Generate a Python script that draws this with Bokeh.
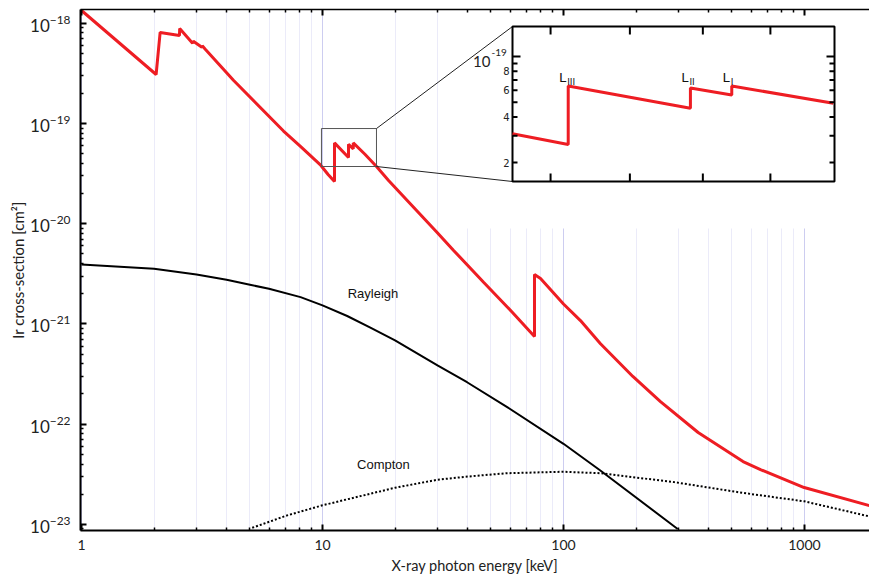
import math
from bokeh.plotting import figure
from bokeh.models import (LogAxis, FixedTicker, BasicTickFormatter, Range1d, LogScale,
                          LogTickFormatter, Title)
from bokeh.core.properties import value
from bokeh.embed import file_html
from bokeh.resources import INLINE

# ---------------- data ----------------
total_energy = [1.0, 2.04, 2.12, 2.55, 2.555, 2.89, 2.91, 3.16, 3.17, 3.27, 4.27, 6.89, 8.1,
                9.85, 10.55, 11.215, 11.215, 12.824, 12.824, 13.419, 13.419, 15.0, 16.75,
                18.8, 29.9, 35.0, 46.6, 61.3, 75.8, 75.8, 80.3, 100, 117.6, 142.4, 194, 252.6,
                362, 556, 657, 997, 1861]
total_xs = [1.34e-18, 3.08e-19, 8.09e-19, 7.55e-19, 8.87e-19, 6.3e-19, 6.6e-19, 5.75e-19,
            5.95e-19, 5.47e-19, 2.7e-19, 8.4e-20, 5.9e-20,
            3.81e-20, 3.1e-20, 2.63e-20, 6.4e-20, 4.57e-20, 6.2e-20, 5.58e-20, 6.4e-20,
            4.93e-20, 3.72e-20, 2.7e-20, 8.17e-21, 5.41e-21, 2.61e-21, 1.31e-21, 7.5e-22,
            3.11e-21, 2.84e-21, 1.58e-21, 1.08e-21, 6.34e-22, 2.99e-22, 1.68e-22, 8.26e-23,
            4.23e-23, 3.52e-23, 2.33e-23, 1.54e-23]

rayleigh_energy = [1.0, 2.0, 3.0, 4.0, 5.0, 6.0, 8.11, 10, 12.66, 15.8, 20, 30, 39.8, 58.4,
                   100, 142.2, 297.7]
rayleigh_xs = [3.92e-21, 3.55e-21, 3.11e-21, 2.76e-21, 2.46e-21, 2.24e-21, 1.85e-21, 1.53e-21,
               1.2e-21, 9.2e-22, 6.84e-22, 3.85e-22, 2.62e-22, 1.48e-22, 6.37e-23, 3.45e-23,
               9.0e-24]

compton_energy = [5.11, 7.14, 10, 20, 30, 40, 58, 100, 142, 288, 556, 657, 997, 1861]
compton_xs = [9.25e-24, 1.23e-23, 1.55e-23, 2.32e-23, 2.79e-23, 3.0e-23, 3.24e-23, 3.35e-23,
              3.24e-23, 2.64e-23, 2.06e-23, 1.95e-23, 1.7e-23, 1.2e-23]

x_major_ticks = [1, 10, 100, 1000]
x_minor_ticks = [2, 3, 4, 5, 6, 7, 8, 9, 20, 30, 40, 50, 60, 70, 80, 90,
                 200, 300, 400, 500, 600, 700, 800, 900]
y_major_ticks = [1e-23, 1e-22, 1e-21, 1e-20, 1e-19, 1e-18]
y_minor_ticks = [m * 10.0 ** e for e in range(-24, -17) for m in range(2, 10)]

curve_labels = ["Rayleigh", "Compton"]
curve_label_x = [16.2, 17.9]
curve_label_y = [2.03e-21, 3.96e-23]

edge_names = ["III", "II", "I"]
edge_energy = [11.215, 12.824, 13.419]
edge_label_y = [7.3e-20, 7.3e-20, 7.3e-20]

inset_x_ticks = [11, 12, 13, 14]
inset_y_major = [1e-19]
inset_y_minor = [2e-20, 3e-20, 4e-20, 5e-20, 6e-20, 7e-20, 8e-20, 9e-20]
inset_y_labels = ["2", "4", "6", "8"]
inset_y_label_values = [2e-20, 4e-20, 6e-20, 8e-20]

zoom_box_x = [9.9, 16.75]
zoom_box_y = [3.72e-20, 8.9e-20]

# ---------------- layout ----------------
X0, X1 = 0.9905, 1861.0
Y0, Y1 = 8.69e-24, 1.371e-18
IX0, IX1 = 10.55, 15.02
IY0, IY1 = 1.5e-20, 1.58e-19
FRAME_W, FRAME_H = 789.0, 521.0
# inset frame as fractions of the main frame (from left / from bottom)
FX0, FX1 = 432 / FRAME_W, 754 / FRAME_W
FY0, FY1 = 349 / FRAME_H, 504 / FRAME_H

L = math.log10


def ext_range(a0, a1, f0, f1):
    k = (L(a1) - L(a0)) / (f1 - f0)
    return 10 ** (L(a0) - f0 * k), 10 ** (L(a1) + (1 - f1) * k)


EX0, EX1 = ext_range(IX0, IX1, FX0, FX1)
EY0, EY1 = ext_range(IY0, IY1, FY0, FY1)


def main_to_inset(v, m0, m1, e0, e1):
    f = (L(v) - L(m0)) / (L(m1) - L(m0))
    return 10 ** (L(e0) + f * (L(e1) - L(e0)))


RED = "#ee1d23"
TICK_FONT = "Lato"

p = figure(width=869, height=581, x_axis_type="log", y_axis_type="log",
           x_range=Range1d(X0, X1), y_range=Range1d(Y0, Y1),
           output_backend="svg", toolbar_location=None,
           min_border_left=80, min_border_right=0, min_border_top=9, min_border_bottom=51)
p.outline_line_color = None
p.background_fill_color = "white"
p.extra_x_ranges = {"ix": Range1d(EX0, EX1)}
p.extra_y_ranges = {"iy": Range1d(EY0, EY1)}
p.extra_x_scales = {"ix": LogScale()}
p.extra_y_scales = {"iy": LogScale()}

xt = FixedTicker(ticks=x_major_ticks, minor_ticks=x_minor_ticks)
yt = FixedTicker(ticks=y_major_ticks, minor_ticks=y_minor_ticks)


def style_axis(ax, lw=2):
    ax.major_tick_in = 6
    ax.major_tick_out = 0
    ax.minor_tick_in = 3
    ax.minor_tick_out = 0
    ax.axis_line_width = lw
    ax.major_tick_line_width = 2
    ax.minor_tick_line_width = 1.5
    ax.axis_line_color = "black"
    ax.major_tick_line_color = "black"
    ax.minor_tick_line_color = "black"


xa = p.xaxis[0]
xa.ticker = xt
xa.formatter = BasicTickFormatter(use_scientific=False)
style_axis(xa)
xa.major_label_text_font = TICK_FONT
xa.major_label_text_font_size = "14px"
xa.major_label_text_color = "#222222"
xa.major_label_standoff = 9
xa.axis_label = "X-ray photon energy [keV]"
xa.axis_label_text_font = TICK_FONT
xa.axis_label_text_font_size = "14.5px"
xa.axis_label_text_font_style = "normal"
xa.axis_label_text_color = "#222222"
xa.axis_label_standoff = 4

ya = p.yaxis[0]
ya.ticker = yt
ya.formatter = LogTickFormatter()
style_axis(ya)
ya.major_label_text_font = TICK_FONT
ya.major_label_text_font_size = "17px"
ya.major_label_text_color = "#222222"
ya.major_label_standoff = 10
ya.axis_label = None

# y-axis title as a left-side title panel (keeps the frame at its original place)
p.add_layout(Title(text="Ir cross-section [cm\u00b2]", align="center", text_font=TICK_FONT,
                   text_font_size="15px", text_font_style="normal", text_color="#222222",
                   standoff=2), "left")

top = LogAxis(ticker=xt, formatter=BasicTickFormatter(use_scientific=False),
              major_label_text_font_size="1px", major_label_text_alpha=0,
              major_label_standoff=0)
style_axis(top, lw=1.5)
p.add_layout(top, "above")

p.xgrid.ticker = xt
p.xgrid.grid_line_color = "#9b9be0"
p.xgrid.grid_line_dash = "1 1"
p.xgrid.grid_line_width = 1
p.xgrid.minor_grid_line_color = "#d6d6f2"
p.xgrid.minor_grid_line_dash = "1 1"
p.ygrid.grid_line_color = None

# white area behind the inset (no grid there in the original)
p.quad(left=[35], right=[X1], bottom=[8.96e-21], top=[Y1], fill_color="white", line_color=None)

# curves
p.line(total_energy, total_xs, line_color=RED, line_width=3)
p.line(rayleigh_energy, rayleigh_xs, line_color="black", line_width=2)
p.line(compton_energy, compton_xs, line_color="black", line_width=2, line_dash="2 2")

p.text(x=curve_label_x, y=curve_label_y, text=curve_labels, text_font=value("Liberation Sans"),
       text_font_size="13px", text_align="center", text_baseline="middle", text_color="#111111")

# zoom box on the main curve
p.quad(left=[zoom_box_x[0]], right=[zoom_box_x[1]], bottom=[zoom_box_y[0]], top=[zoom_box_y[1]],
       fill_color=None, line_color="#555555", line_width=1)

bx = main_to_inset(zoom_box_x[1], X0, X1, EX0, EX1)
by0 = main_to_inset(zoom_box_y[0], Y0, Y1, EY0, EY1)
by1 = main_to_inset(zoom_box_y[1], Y0, Y1, EY0, EY1)
p.segment(x0=[bx, bx], y0=[by1, by0], x1=[IX0, IX0], y1=[IY1, IY0],
          x_range_name="ix", y_range_name="iy", line_color="#222222", line_width=1)

# inset
p.quad(left=[IX0], right=[IX1], bottom=[IY0], top=[IY1], x_range_name="ix", y_range_name="iy",
       fill_color="white", line_color="black", line_width=2)
ins_e = [e for e in total_energy if IX0 - 1e-9 <= e <= IX1]
ins_v = [v for e, v in zip(total_energy, total_xs) if IX0 - 1e-9 <= e <= IX1]
p.line(ins_e, ins_v, x_range_name="ix", y_range_name="iy", line_color=RED, line_width=3)

pxdx = (FX1 - FX0) * FRAME_W / (L(IX1) - L(IX0))
pxdy = (FY1 - FY0) * FRAME_H / (L(IY1) - L(IY0))
kx_maj, kx_min = 10 ** (8 / pxdx), 10 ** (5 / pxdx)
ky_maj = 10 ** (8 / pxdy)
n = len(inset_x_ticks)
p.segment(x0=inset_x_ticks * 2, x1=inset_x_ticks * 2,
          y0=[IY0] * n + [IY1] * n, y1=[IY0 * ky_maj] * n + [IY1 / ky_maj] * n,
          x_range_name="ix", y_range_name="iy", line_color="black", line_width=2)
yt_all = inset_y_major + inset_y_minor
ks = [kx_maj] * len(inset_y_major) + [kx_min] * len(inset_y_minor)
m = len(yt_all)
p.segment(x0=[IX0] * m + [IX1] * m, x1=[IX0 * k for k in ks] + [IX1 / k for k in ks],
          y0=yt_all * 2, y1=yt_all * 2,
          x_range_name="ix", y_range_name="iy", line_color="black", line_width=2)

p.text(x=[IX0] * len(inset_y_labels), y=inset_y_label_values, text=inset_y_labels,
       x_range_name="ix", y_range_name="iy", x_offset=-3, text_align="right",
       text_baseline="middle", text_font=value("DejaVu Sans"), text_font_size="10px",
       text_color="#222222")
p.text(x=[IX0], y=inset_y_major, text=["10"], x_range_name="ix", y_range_name="iy",
       x_offset=-22, y_offset=5, text_align="right", text_baseline="middle",
       text_font=value(TICK_FONT), text_font_size="15px", text_color="#222222")
p.text(x=[IX0], y=inset_y_major, text=["-19"], x_range_name="ix", y_range_name="iy",
       x_offset=-21, y_offset=-4, text_align="left", text_baseline="middle",
       text_font=value(TICK_FONT), text_font_size="10px", text_color="#222222")

p.text(x=edge_energy, y=edge_label_y, text=["L"] * len(edge_energy),
       x_range_name="ix", y_range_name="iy", x_offset=-2, text_align="right",
       text_baseline="middle", text_font=value("DejaVu Sans"), text_font_size="13px",
       text_color="#111111")
p.text(x=edge_energy, y=edge_label_y, text=edge_names,
       x_range_name="ix", y_range_name="iy", x_offset=-1, y_offset=5, text_align="left",
       text_baseline="middle", text_font=value("DejaVu Sans"), text_font_size="9px",
       text_color="#111111")

open("out.html", "w").write(file_html(p, INLINE))
